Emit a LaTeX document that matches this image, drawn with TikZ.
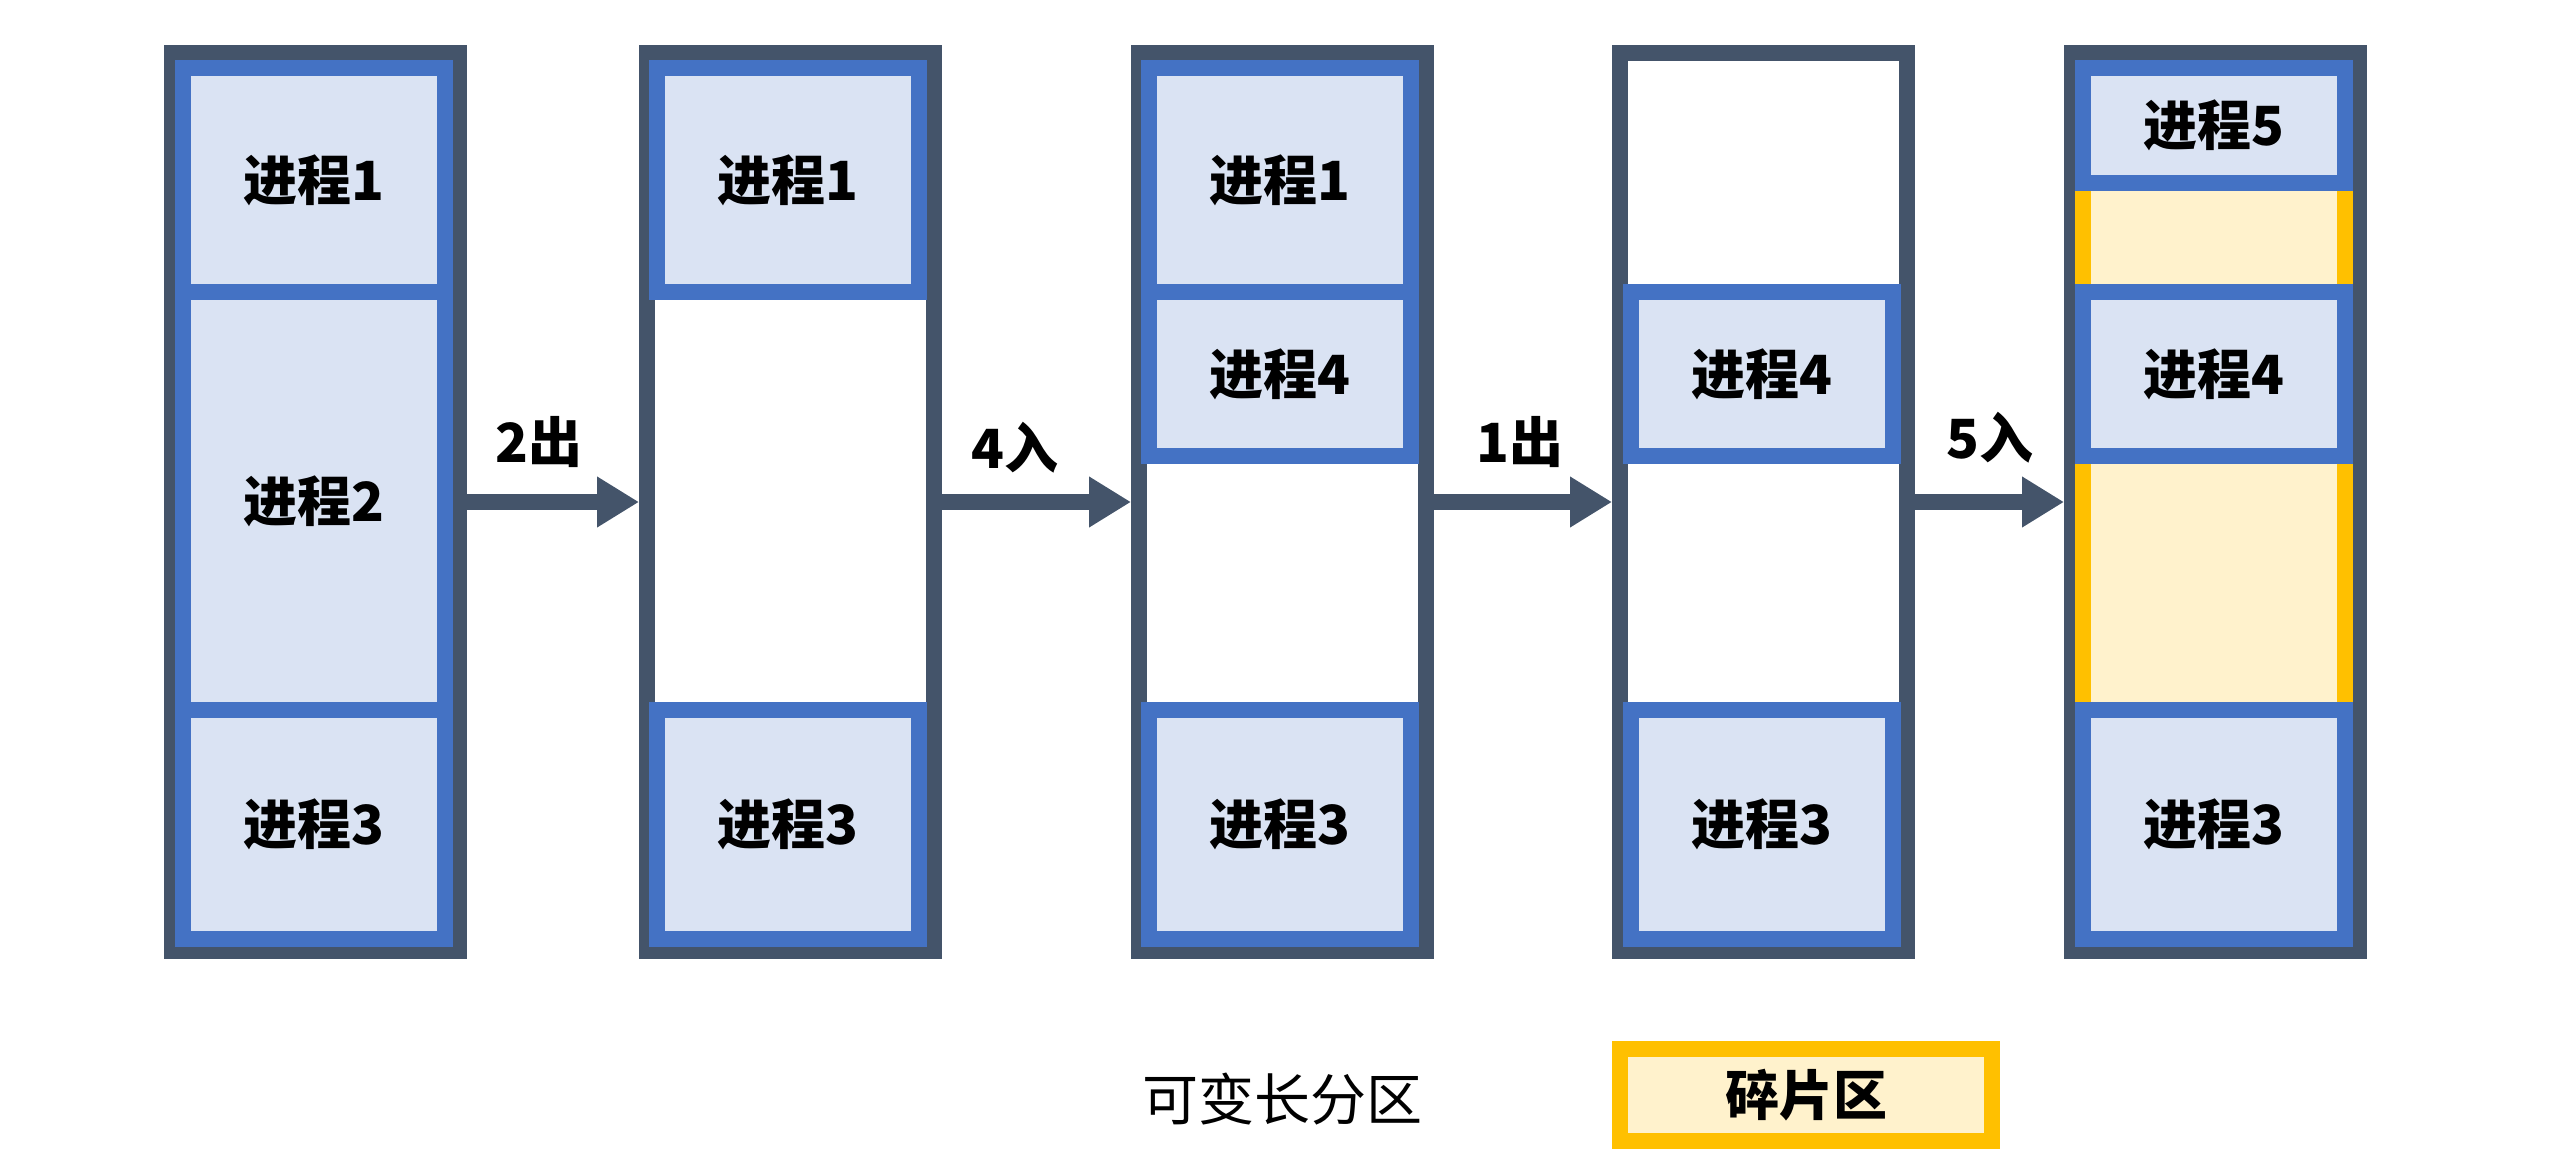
\documentclass[tikz,border=0pt]{standalone}
\usepackage{fontspec}
\newfontfamily\cjk{Noto Sans CJK SC}
\usetikzlibrary{arrows.meta}
\definecolor{darkf}{HTML}{44546A}
\definecolor{bluef}{HTML}{4472C4}
\definecolor{lightf}{HTML}{DAE3F3}
\definecolor{yelf}{HTML}{FFC000}
\definecolor{lyelf}{HTML}{FFF2CC}
\tikzset{
  frame/.style={draw=darkf, fill=white, line width=16pt, minimum width=287pt, minimum height=898pt, inner sep=0pt},
  proc/.style={draw=bluef, fill=lightf, line width=16pt, minimum width=262pt, minimum height=#1, inner sep=0pt, font=\cjk\bfseries\fontsize{54}{66}\selectfont},
  frag/.style={draw=yelf, fill=lyelf, line width=16pt, minimum width=262pt, minimum height=#1, inner sep=0pt},
  flow/.style={draw=darkf, line width=16pt, -{Triangle[length=42pt,width=48pt]}},
  lbl/.style={font=\cjk\bfseries\fontsize{54}{66}\selectfont, inner sep=0pt},
  legend/.style={font=\cjk\fontsize{56}{66}\selectfont, inner sep=0pt}
}
\begin{document}
\begin{tikzpicture}[x=1pt, y=-1pt]
\useasboundingbox (0,0) rectangle (2560,1172);
% frames
\node[frame] (f1) at (315.5,502) {};
\node[frame] (f2) at (790.5,502) {};
\node[frame] (f3) at (1282.5,502) {};
\node[frame] (f4) at (1763.5,502) {};
\node[frame] (f5) at (2215.5,502) {};
% fragments
\node[frag=109pt] (g1) at (2213.5,237.5) {};
\node[frag=254pt] (g2) at (2213.5,583) {};
% column 1
\node[proc=224pt] (a1) at (314,180) {进程1};
\node[proc=418pt] (a2) at (314,501) {进程2};
\node[proc=229pt] (a3) at (314,824.5) {进程3};
% column 2
\node[proc=224pt] (b1) at (788,180) {进程1};
\node[proc=229pt] (b3) at (788,824.5) {进程3};
% column 3
\node[proc=224pt] (c1) at (1280,180) {进程1};
\node[proc=164pt] (c4) at (1280,374) {进程4};
\node[proc=229pt] (c3) at (1280,824.5) {进程3};
% column 4
\node[proc=164pt] (d4) at (1761.5,374) {进程4};
\node[proc=229pt] (d3) at (1761.5,824.5) {进程3};
% column 5
\node[proc=115pt] (e5) at (2213.5,125.5) {进程5};
\node[proc=164pt] (e4) at (2213.5,374) {进程4};
\node[proc=229pt] (e3) at (2213.5,824.5) {进程3};
% arrows
\draw[flow] (f1.east) -- (f2.west);
\draw[flow] (f2.east) -- (f3.west);
\draw[flow] (f3.east) -- (f4.west);
\draw[flow] (f4.east) -- (f5.west);
\node[lbl] (l1) at (539,442) {2出};
\node[lbl] (l2) at (1015,448) {4入};
\node[lbl] (l3) at (1520,442) {1出};
\node[lbl] (l4) at (1990,438) {5入};
% legend
\node[legend] (lg1) at (1282,1099) {可变长分区};
\node[draw=yelf, fill=lyelf, line width=16pt, minimum width=372pt, minimum height=92pt, inner sep=0pt, font=\cjk\bfseries\fontsize{54}{66}\selectfont] (lg2) at (1806,1095) {碎片区};
\end{tikzpicture}
\end{document}
